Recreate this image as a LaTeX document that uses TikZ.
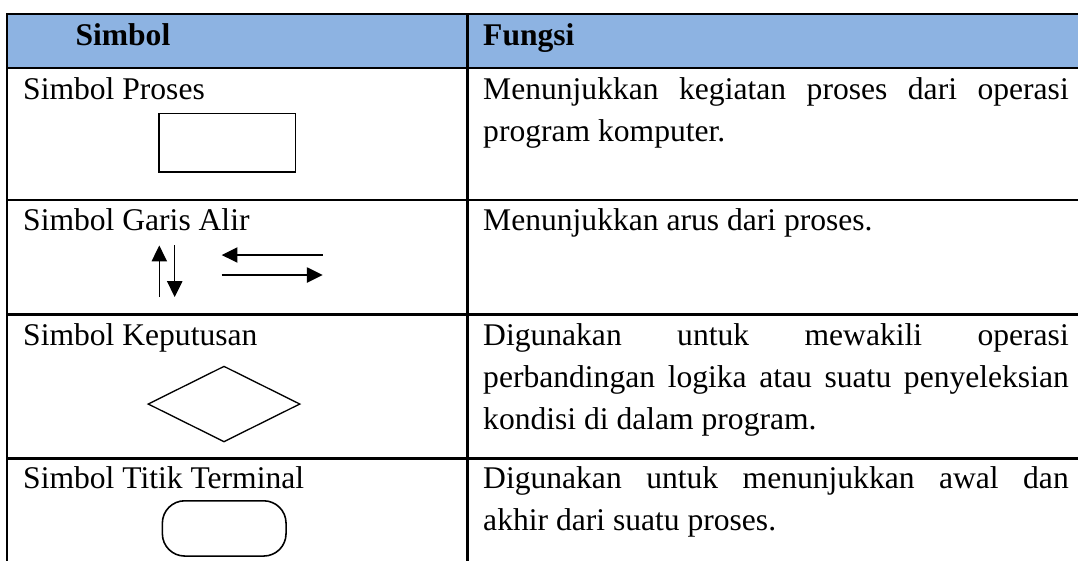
\documentclass[tikz,border=0pt]{standalone}
\usepackage{fontspec}
\setmainfont{Liberation Serif}
\usepackage{tikz}
\usetikzlibrary{shapes.geometric}
\usetikzlibrary{arrows.meta}
\tikzstyle{grid}=[line width=0.9pt]
\tikzstyle{cell}=[inner sep=0pt, anchor=base west, font=\fontsize{12}{14}\selectfont]
\tikzstyle{symbol}=[draw, inner sep=0pt, line width=0.6pt]
\tikzstyle{proses}=[symbol, minimum width=51.9pt, minimum height=22.2pt]
\tikzstyle{keputusan}=[symbol, diamond, minimum width=57.8pt, minimum height=28.8pt, line width=0.5pt]
\tikzstyle{terminal}=[symbol, rounded corners=8.5pt, minimum width=47pt, minimum height=21pt]
\tikzstyle{flow}=[-{Triangle[length=6pt, width=5.8pt]}, line width=0.5pt]
\newcommand{\fullline}[1]{\makebox[222.5pt][s]{#1}}

\begin{document}
\begin{tikzpicture}[x=0.38pt, y=-0.38pt]
        \useasboundingbox (0,0) rectangle (1078,561);
        \fill[fill={rgb,255:red,141;green,179;blue,226}] (7.3,14.3) rectangle (1078,68);
        \draw[grid] (1078,14.3) -- (7.3,14.3) -- (7.3,561);
        \draw[grid] (467.5,14.3) -- (467.5,561);
        \foreach \y in {68,200,314.5,458.3}
            \draw[grid] (7.3,\y) -- (1078,\y);

        \node[cell, font=\fontsize{12}{14}\selectfont\bfseries] (hSimbol) at (75,45) {Simbol};
        \node[cell, font=\fontsize{12}{14}\selectfont\bfseries] (hFungsi) at (482.7,45) {Fungsi};

        \node[cell] (sProses) at (22.7,99) {Simbol Proses};
        \node[proses] (P) at (227,142.9) {};
        \node[cell] (fProses1) at (482.7,99) {\fullline{Menunjukkan kegiatan proses dari operasi}};
        \node[cell] (fProses2) at (482.7,141) {program komputer.};

        \node[cell] (sAlir) at (22.7,230) {Simbol Garis Alir};
        \coordinate (upA) at (159.3,297);
        \coordinate (upB) at (159.3,245.5);
        \coordinate (dnA) at (174.7,245);
        \coordinate (dnB) at (174.7,297);
        \coordinate (ltA) at (322.7,255);
        \coordinate (ltB) at (221.7,255);
        \coordinate (rtA) at (221.7,275);
        \coordinate (rtB) at (322.7,275);
        \draw[flow] (upA) -- (upB);
        \draw[flow] (dnA) -- (dnB);
        \draw[flow] (ltA) -- (ltB);
        \draw[flow] (rtA) -- (rtB);
        \node[cell] (fAlir) at (482.7,230) {Menunjukkan arus dari proses.};

        \node[cell] (sKeputusan) at (22.7,345) {Simbol Keputusan};
        \node[keputusan] (K) at (224,404) {};
        \node[cell] (fKeputusan1) at (482.7,345) {\fullline{Digunakan untuk mewakili operasi}};
        \node[cell] (fKeputusan2) at (482.7,387) {\fullline{perbandingan logika atau suatu penyeleksian}};
        \node[cell] (fKeputusan3) at (482.7,429) {kondisi di dalam program.};

        \node[cell] (sTerminal) at (22.7,488.3) {Simbol Titik Terminal};
        \node[terminal] (T) at (224.2,528.4) {};
        \node[cell] (fTerminal1) at (482.7,488.3) {\fullline{Digunakan untuk menunjukkan awal dan}};
        \node[cell] (fTerminal2) at (482.7,530) {akhir dari suatu proses.};
    \end{tikzpicture}
\end{document}
